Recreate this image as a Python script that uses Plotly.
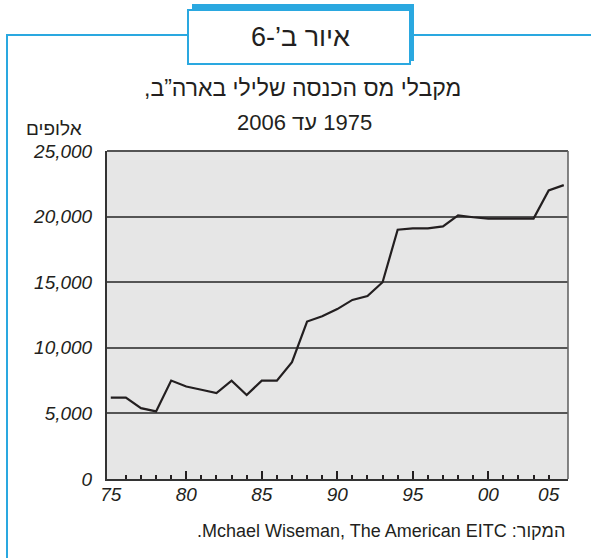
import plotly.graph_objects as go

# ---------------- data ----------------
years = list(range(1975, 2006))
recipients = [6200, 6200, 5400, 5150, 7500, 7050, 6800, 6550, 7500, 6400,
              7500, 7500, 8900, 12000, 12400, 12950, 13650, 13950, 15000, 19000,
              19100, 19100, 19250, 20100, 19950, 19850, 19850, 19850, 19850, 22000,
              22400]

x_label_vals = [1975, 1980, 1985, 1990, 1995, 2000, 2004]
x_label_text = ["75", "80", "85", "90", "95", "00", "05"]
major_tick_vals = [1980, 1985, 1990, 1995, 2000]
minor_tick_vals = [y for y in range(1976, 2005) if y not in major_tick_vals]
y_tick_vals = [0, 5000, 10000, 15000, 20000, 25000]
y_tick_text = ["0", "5,000", "10,000", "15,000", "20,000", "25,000"]

fig_label = "\u202bאיור ב’-6\u202c"
title_line1 = "\u202bמקבלי מס הכנסה שלילי בארה”ב,\u202c"
title_line2 = "\u202b1975 עד 2006\u202c"
unit_label = "אלופים"
source_text = "\u202bהמקור: Mchael Wiseman, The American EITC.\u202c"

# ---------------- layout helpers ----------------
WID, HGT = 591, 558
ML, MR, MT, MB = 107, 23, 151, 79
PW = WID - ML - MR
PH = HGT - MT - MB


def px(p):
    return (p - ML) / PW


def py(p):
    return (HGT - MB - p) / PH


BLUE = "#2aa8e0"
FONT = "Liberation Sans, Arial, sans-serif"
TXT = "#231f20"

fig = go.Figure()
fig.add_trace(go.Scatter(x=years, y=recipients, mode="lines",
                         line=dict(color="#231f20", width=2.2),
                         hoverinfo="skip", showlegend=False))
# invisible trace on second x axis so its ticks render
fig.add_trace(go.Scatter(x=[years[0]], y=[recipients[0]], xaxis="x2", mode="lines",
                         line=dict(width=0), hoverinfo="skip", showlegend=False))

xr = [1974.75, 2005.28]
fig.update_layout(
    width=WID, height=HGT,
    margin=dict(l=ML, r=MR, t=MT, b=MB, pad=0),
    paper_bgcolor="white", plot_bgcolor="#e6e6e6",
    font=dict(family=FONT, color=TXT),
    xaxis=dict(range=xr, tickmode="array", tickvals=x_label_vals, ticktext=x_label_text,
               ticks="", showgrid=False, zeroline=False,
               showline=True, linecolor="#333", linewidth=2, mirror=False,
               tickfont=dict(size=19, style="italic", color=TXT),
               ticklabelstandoff=-3),
    xaxis2=dict(range=xr, overlaying="x", anchor="y", side="bottom",
                tickmode="array", tickvals=major_tick_vals, ticks="inside",
                ticklen=8, tickwidth=2, tickcolor="#231f20",
                showticklabels=False, showgrid=False, zeroline=False, showline=False,
                minor=dict(tickmode="array", tickvals=minor_tick_vals, ticks="inside",
                           ticklen=4, tickwidth=2, tickcolor="#231f20")),
    yaxis=dict(range=[0, 25000], tickmode="array", tickvals=y_tick_vals, ticktext=y_tick_text,
               ticks="", showgrid=True, gridcolor="#555555", gridwidth=1.6,
               zeroline=False, showline=True, linecolor="#333", linewidth=2,
               tickfont=dict(size=19, style="italic", color=TXT),
               ticklabelstandoff=9),
    shapes=[
        dict(type="line", xref="paper", yref="paper", x0=0, x1=1, y0=1, y1=1,
             line=dict(color="#555555", width=2)),
        dict(type="line", xref="paper", yref="paper", x0=1, x1=1, y0=0, y1=1,
             line=dict(color="#666666", width=1.6)),
        dict(type="line", xref="paper", yref="paper", x0=px(6), x1=px(188), y0=py(35), y1=py(35),
             line=dict(color=BLUE, width=2)),
        dict(type="line", xref="paper", yref="paper", x0=px(412), x1=px(591), y0=py(35), y1=py(35),
             line=dict(color=BLUE, width=2)),
        dict(type="line", xref="paper", yref="paper", x0=px(7), x1=px(7), y0=py(34), y1=py(558),
             line=dict(color=BLUE, width=2)),
        dict(type="rect", xref="paper", yref="paper", x0=px(192), x1=px(414), y0=py(4), y1=py(10),
             fillcolor=BLUE, line=dict(width=0)),
        dict(type="rect", xref="paper", yref="paper", x0=px(408), x1=px(414), y0=py(4), y1=py(61),
             fillcolor=BLUE, line=dict(width=0)),
        dict(type="rect", xref="paper", yref="paper", x0=px(188), x1=px(410), y0=py(10), y1=py(64),
             fillcolor="white", line=dict(color=BLUE, width=2)),
    ],
    annotations=[
        dict(text=fig_label, xref="paper", yref="paper", x=px(300), y=py(37),
             xanchor="center", yanchor="middle", showarrow=False,
             font=dict(size=27, color=TXT, family=FONT)),
        dict(text=title_line1, xref="paper", yref="paper", x=px(302), y=py(88),
             xanchor="center", yanchor="middle", showarrow=False,
             font=dict(size=23, color=TXT, family=FONT)),
        dict(text=title_line2, xref="paper", yref="paper", x=px(304), y=py(122),
             xanchor="center", yanchor="middle", showarrow=False,
             font=dict(size=22, color=TXT, family=FONT)),
        dict(text=unit_label, xref="paper", yref="paper", x=px(84), y=py(129),
             xanchor="right", yanchor="middle", showarrow=False,
             font=dict(size=19, color=TXT, family=FONT)),
        dict(text=source_text, xref="paper", yref="paper", x=px(567), y=py(531),
             xanchor="right", yanchor="middle", showarrow=False,
             font=dict(size=18, color=TXT, family=FONT)),
    ],
)

fig.write_html("out.html", config={"displayModeBar": False},
               post_script="document.body.style.margin='0';")
